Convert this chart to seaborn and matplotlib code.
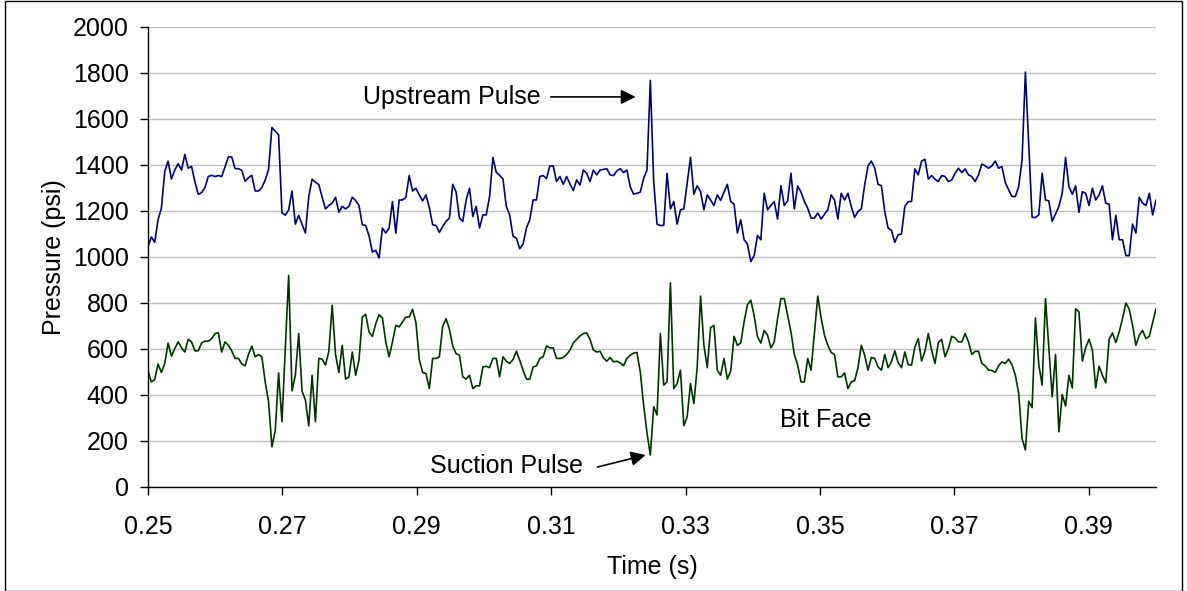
import numpy as np
import pandas as pd
import matplotlib
matplotlib.use("Agg")
import matplotlib.pyplot as plt
from matplotlib.patches import Rectangle
import seaborn as sns

# ---- data (psi), sampled uniformly from 0.25 s to 0.40 s ----
upstream = [
    1046, 1087, 1064, 1162, 1212, 1371, 1417, 1339, 1378, 1406, 1378, 1446, 1386, 1394, 1328, 1272, 1280, 1302, 1350, 1355,
    1350, 1354, 1350, 1393, 1435, 1435, 1384, 1384, 1377, 1329, 1345, 1355, 1287, 1287, 1302, 1335, 1381, 1563, 1547, 1531,
    1192, 1182, 1205, 1287, 1143, 1181, 1142, 1104, 1263, 1338,
    1325, 1315, 1260, 1209, 1224, 1234, 1260, 1195, 1220, 1209, 1220, 1260, 1246, 1224, 1140, 1137, 1092, 1022, 1029, 996,
    1126, 1104, 1126, 1241, 1104, 1248, 1248, 1259, 1354, 1287, 1299, 1270, 1244, 1270, 1215, 1140, 1137, 1107, 1133, 1155,
    1169, 1316, 1282, 1169, 1155, 1248, 1299, 1176, 1220, 1126, 1183,
    1183, 1263, 1433, 1368, 1355, 1339, 1220, 1183, 1090, 1082, 1036, 1056, 1126, 1162, 1248, 1248, 1350, 1354, 1341, 1396,
    1396, 1328, 1350, 1316, 1350, 1318, 1289, 1335, 1313, 1378, 1364, 1328, 1378, 1357, 1378, 1381, 1384, 1357, 1354, 1374,
    1384, 1367, 1378, 1306, 1273, 1277, 1282, 1342, 1378, 1768,
    1330, 1143, 1137, 1137, 1364, 1209, 1241, 1143, 1205, 1209, 1321, 1433, 1273, 1310, 1284, 1205, 1270, 1248, 1224, 1270,
    1246, 1282, 1316, 1241, 1230, 1104, 1162, 1075, 1056, 980, 1006, 1094, 1075, 1277, 1205, 1224, 1241, 1165, 1310, 1224,
    1244, 1364, 1209, 1309, 1282, 1241, 1212, 1169, 1169, 1191,
    1165, 1186, 1205, 1270, 1248, 1165, 1277, 1248, 1277, 1220, 1172, 1198, 1209, 1313, 1396, 1417, 1386, 1316, 1310, 1198,
    1126, 1116, 1064, 1097, 1100, 1220, 1241, 1241, 1383, 1357, 1417, 1425, 1339, 1354, 1338, 1328, 1354, 1350, 1328, 1335,
    1364, 1386, 1367, 1383, 1357, 1350, 1328, 1357, 1404, 1396,
    1386, 1396, 1417, 1386, 1393, 1323, 1292, 1263, 1263, 1306, 1422, 1804, 1488, 1172, 1172, 1183, 1364, 1248, 1244, 1155,
    1188, 1220, 1277, 1433, 1306, 1273, 1309, 1194, 1284, 1277, 1224, 1299, 1248, 1270, 1309, 1234, 1230, 1075, 1181, 1075,
    1075, 1006, 1006, 1143, 1104, 1260, 1234, 1224, 1277, 1183, 1248,
]

bit_face = [
    504, 457, 467, 535, 498, 537, 626, 569, 602, 631, 606, 587, 642, 631, 592, 592, 626, 634, 634, 645,
    667, 671, 587, 631, 616, 592, 559, 559, 535, 527, 576, 613, 566, 576, 566, 457, 371, 175, 245, 496,
    284, 602, 920, 418, 486, 667, 417, 378, 266, 486,
    284, 559, 556, 530, 590, 790, 576, 498, 616, 469, 479, 587, 486, 551, 739, 751, 674, 655, 710, 749,
    735, 631, 566, 631, 703, 696, 718, 739, 739, 773, 715, 556, 498, 493, 428, 559, 559, 566, 699, 732,
    686, 613, 580, 573, 479, 469, 486, 428, 440, 440, 522,
    525, 519, 559, 559, 479, 566, 547, 537, 554, 590, 551, 508, 469, 469, 522, 527, 559, 566, 613, 605,
    605, 559, 559, 563, 576, 595, 626, 642, 657, 667, 670, 642, 595, 587, 590, 561, 547, 563, 544, 547,
    540, 527, 559, 573, 582, 585, 500, 356, 236, 139,
    349, 313, 667, 443, 457, 888, 428, 450, 508, 266, 305, 450, 363, 522, 830, 616, 519, 693, 703, 508,
    486, 559, 469, 504, 655, 616, 626, 718, 793, 812, 746, 653, 626, 681, 660, 605, 631, 732, 819, 819,
    746, 674, 576, 530, 457, 457, 559, 508, 667, 830,
    735, 660, 616, 585, 576, 479, 479, 496, 428, 457, 462, 518, 616, 573, 508, 563, 559, 522, 508, 576,
    519, 544, 592, 540, 519, 587, 532, 530, 609, 645, 548, 590, 667, 595, 537, 628, 642, 566, 602, 655,
    648, 631, 631, 667, 631, 576, 590, 590, 537, 527,
    508, 507, 498, 527, 544, 537, 556, 532, 486, 407, 211, 161, 373, 345, 735, 532, 443, 819, 602, 392,
    576, 240, 402, 352, 486, 431, 775, 761, 547, 606, 642, 595, 431, 525, 486, 453, 642, 670, 628, 674,
    732, 800, 773, 703, 616, 660, 681, 645, 655, 715, 775,
]

series_names = ["Upstream", "Bit Face"]
t_start, t_end = 0.25, 0.40
x_tick_values = [0.25, 0.27, 0.29, 0.31, 0.33, 0.35, 0.37, 0.39]
y_tick_values = [0, 200, 400, 600, 800, 1000, 1200, 1400, 1600, 1800, 2000]

time = np.linspace(t_start, t_end, len(upstream))
df = pd.DataFrame({
    "Time (s)": np.concatenate([time, time]),
    "Pressure (psi)": upstream + bit_face,
    "Series": [series_names[0]] * len(upstream) + [series_names[1]] * len(bit_face),
})

sns.set_theme(style="white")
plt.rcParams["font.family"] = ["Liberation Sans", "DejaVu Sans"]
FS = 18

W, H = 1187, 591
fig = plt.figure(figsize=(W / 100, H / 100), dpi=100)
ax = fig.add_axes([148 / W, 1 - 487 / H, (1156 - 148) / W, (487 - 27) / H])

sns.lineplot(data=df, x="Time (s)", y="Pressure (psi)", hue="Series",
             palette={"Upstream": "#000080", "Bit Face": "#003300"},
             estimator=None, linewidth=1.2, legend=False, ax=ax)

ax.set_xlim(t_start, t_end)
ax.set_ylim(0, 2000)
ax.set_xticks(x_tick_values)
ax.set_xticklabels([f"{v:.2f}" for v in x_tick_values])
ax.set_yticks(y_tick_values)
ax.yaxis.grid(True, color="#c0c0c0", linewidth=1)
ax.xaxis.grid(False)
for s in ["top", "right"]:
    ax.spines[s].set_visible(False)
for s in ["left", "bottom"]:
    ax.spines[s].set_color("black")
    ax.spines[s].set_linewidth(1)
ax.tick_params(axis="both", direction="out", length=6, width=1, colors="black",
               labelsize=FS, left=True, bottom=True)
ax.tick_params(axis="x", pad=14)
ax.tick_params(axis="y", pad=8)
ax.set_xlabel("Time (s)", fontsize=FS, color="black", labelpad=12)
ax.set_ylabel("Pressure (psi)", fontsize=FS, color="black", labelpad=5)

arrow = dict(arrowstyle="-|>", color="black", lw=1.2, mutation_scale=22, shrinkA=0, shrinkB=0)
ax.text(0.30844, 1696, "Upstream Pulse", ha="right", va="center", fontsize=FS, color="black")
ax.annotate("", xy=(0.32256, 1696), xytext=(0.30993, 1696), arrowprops=arrow)
ax.text(0.31468, 91, "Suction Pulse", ha="right", va="center", fontsize=FS, color="black")
ax.annotate("", xy=(0.32405, 139), xytext=(0.31691, 87), arrowprops=arrow)
ax.text(0.34398, 291, "Bit Face", ha="left", va="center", fontsize=FS, color="black")

# chart-area frame
fig.patches.append(Rectangle((4.5 / W, 0.5 / H), (1182 - 4.5) / W, (H - 1.5) / H,
                             transform=fig.transFigure, fill=False,
                             edgecolor="black", linewidth=1))

fig.savefig("out.png", dpi=100)
